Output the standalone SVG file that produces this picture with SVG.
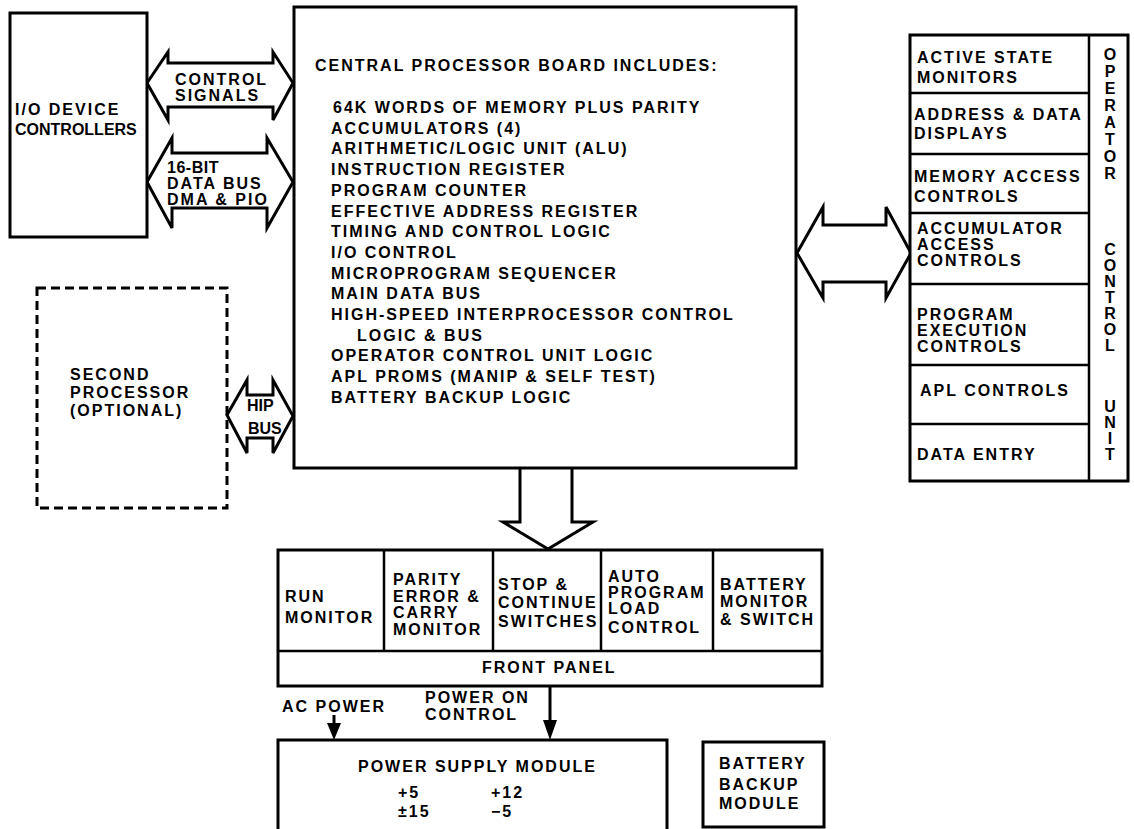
<svg xmlns="http://www.w3.org/2000/svg" width="1134" height="829" viewBox="0 0 1134 829">
<style>
.b{fill:#fff;stroke:#000;stroke-width:3;stroke-linejoin:miter}
.d{fill:none;stroke:#000;stroke-width:2.5}
.t{font-family:"Liberation Sans",Arial,sans-serif;font-weight:bold;font-size:16px;letter-spacing:2px;fill:#000}
.s{font-family:"Liberation Sans",Arial,sans-serif;font-weight:bold;font-size:16px;fill:#000}
</style>
<rect width="1134" height="829" fill="#fff"/>
<g id="connectors">
<polygon class="b" points="147,83 168,52 168,63 273,63 273,52 293,83 273,120 273,107 168,107 168,120"/>
<polygon class="b" points="147,182 172,138 172,153 267,153 267,138 293,182 267,228 267,208 172,208 172,228"/>
<polygon class="b" points="227,415 247,380 247,395 273,395 273,380 293,416 273,453 273,438 247,438 247,453"/>
<polygon class="b" points="797,253 823,207 823,225 886,225 886,207 911,253 886,298 886,282 823,282 823,298"/>
<path class="b" d="M520,469 V522 H503 L548,549 L593,522 H572 V469"/>
<line x1="334" y1="715" x2="334" y2="726" stroke="#000" stroke-width="3"/>
<polygon points="327,723 341,723 334,740" fill="#000"/>
<line x1="550" y1="686" x2="550" y2="722" stroke="#000" stroke-width="3"/>
<polygon points="543,720 557,720 550,740" fill="#000"/>
<text class="t" x="175" y="85">CONTROL</text>
<text class="t" x="175" y="101">SIGNALS</text>
<text class="s" x="167" y="173" letter-spacing="0.5">16-BIT</text>
<text class="t" x="167" y="189" letter-spacing="1.5">DATA BUS</text>
<text class="t" x="167" y="205" letter-spacing="1.5">DMA &amp; PIO</text>
<text class="s" x="247" y="411" font-size="15">HIP</text>
<text class="s" x="248" y="434" font-size="15">BUS</text>
<text class="t" x="282" y="712">AC POWER</text>
<text class="t" x="425" y="703">POWER ON</text>
<text class="t" x="425" y="720">CONTROL</text>
</g>
<g id="io-device-controllers">
<rect class="b" x="10" y="13" width="137" height="224"/>
<text class="t" x="15" y="115">I/O DEVICE</text>
<text class="s" x="15" y="135">CONTROLLERS</text>
</g>
<g id="second-processor">
<rect x="37" y="288" width="190" height="220" fill="none" stroke="#000" stroke-width="3" stroke-dasharray="9,5"/>
<text class="t" x="70" y="380" letter-spacing="1">SECOND</text>
<text class="t" x="70" y="398" letter-spacing="1">PROCESSOR</text>
<text class="t" x="70" y="416" letter-spacing="1">(OPTIONAL)</text>
</g>
<g id="central-processor-board">
<rect class="b" x="294" y="7" width="502" height="461"/>
<text class="t" x="315" y="71">CENTRAL PROCESSOR BOARD INCLUDES:</text>
<text class="t" x="333" y="113" letter-spacing="2.5">64K WORDS OF MEMORY PLUS PARITY</text>
<text class="t" x="331" y="133.7">ACCUMULATORS (4)</text>
<text class="t" x="331" y="154.4">ARITHMETIC/LOGIC UNIT (ALU)</text>
<text class="t" x="331" y="175.1">INSTRUCTION REGISTER</text>
<text class="t" x="331" y="195.8">PROGRAM COUNTER</text>
<text class="t" x="331" y="216.5">EFFECTIVE ADDRESS REGISTER</text>
<text class="t" x="331" y="237.2">TIMING AND CONTROL LOGIC</text>
<text class="t" x="331" y="257.9">I/O CONTROL</text>
<text class="t" x="331" y="278.6">MICROPROGRAM SEQUENCER</text>
<text class="t" x="331" y="299.3">MAIN DATA BUS</text>
<text class="t" x="331" y="320">HIGH-SPEED INTERPROCESSOR CONTROL</text>
<text class="t" x="357" y="340.7">LOGIC &amp; BUS</text>
<text class="t" x="331" y="361.4">OPERATOR CONTROL UNIT LOGIC</text>
<text class="t" x="331" y="382.1">APL PROMS (MANIP &amp; SELF TEST)</text>
<text class="t" x="331" y="402.8">BATTERY BACKUP LOGIC</text>
</g>
<g id="operator-control-unit">
<rect class="b" x="910" y="35" width="218" height="446"/>
<line class="d" x1="1089" y1="35" x2="1089" y2="481"/>
<line class="d" x1="910" y1="93" x2="1089" y2="93"/>
<line class="d" x1="910" y1="154" x2="1089" y2="154"/>
<line class="d" x1="910" y1="213" x2="1089" y2="213"/>
<line class="d" x1="910" y1="284" x2="1089" y2="284"/>
<line class="d" x1="910" y1="365" x2="1089" y2="365"/>
<line class="d" x1="910" y1="424" x2="1089" y2="424"/>
<text class="t" x="917" y="63">ACTIVE STATE</text>
<text class="t" x="917" y="83">MONITORS</text>
<text class="t" x="914" y="120">ADDRESS &amp; DATA</text>
<text class="t" x="914" y="139">DISPLAYS</text>
<text class="t" x="914" y="182">MEMORY ACCESS</text>
<text class="t" x="914" y="202">CONTROLS</text>
<text class="t" x="917" y="234">ACCUMULATOR</text>
<text class="t" x="917" y="250">ACCESS</text>
<text class="t" x="917" y="266">CONTROLS</text>
<text class="t" x="917" y="320">PROGRAM</text>
<text class="t" x="917" y="336">EXECUTION</text>
<text class="t" x="917" y="352">CONTROLS</text>
<text class="t" x="920" y="396">APL CONTROLS</text>
<text class="t" x="917" y="460">DATA ENTRY</text>
<g class="s" text-anchor="middle">
<text x="1110" y="60">O</text><text x="1110" y="77">P</text><text x="1110" y="94">E</text><text x="1110" y="111">R</text>
<text x="1110" y="128">A</text><text x="1110" y="145">T</text><text x="1110" y="162">O</text><text x="1110" y="179">R</text>
<text x="1110" y="255">C</text><text x="1110" y="271">O</text><text x="1110" y="287">N</text><text x="1110" y="303">T</text>
<text x="1110" y="319">R</text><text x="1110" y="335">O</text><text x="1110" y="351">L</text>
<text x="1110" y="412">U</text><text x="1110" y="428">N</text><text x="1110" y="444">I</text><text x="1110" y="460">T</text>
</g>
</g>
<g id="front-panel">
<rect class="b" x="278" y="550" width="544" height="136"/>
<line class="d" x1="278" y1="651" x2="822" y2="651"/>
<line class="d" x1="384" y1="550" x2="384" y2="651"/>
<line class="d" x1="493" y1="550" x2="493" y2="651"/>
<line class="d" x1="601" y1="550" x2="601" y2="651"/>
<line class="d" x1="713" y1="550" x2="713" y2="651"/>
<text class="t" x="285" y="602">RUN</text>
<text class="t" x="285" y="623">MONITOR</text>
<text class="t" x="393" y="585">PARITY</text>
<text class="t" x="393" y="602">ERROR &amp;</text>
<text class="t" x="393" y="618">CARRY</text>
<text class="t" x="393" y="635">MONITOR</text>
<text class="t" x="498" y="590">STOP &amp;</text>
<text class="t" x="498" y="608">CONTINUE</text>
<text class="t" x="498" y="627">SWITCHES</text>
<text class="t" x="608" y="582">AUTO</text>
<text class="t" x="608" y="598">PROGRAM</text>
<text class="t" x="608" y="614">LOAD</text>
<text class="t" x="608" y="633">CONTROL</text>
<text class="t" x="720" y="590">BATTERY</text>
<text class="t" x="720" y="607">MONITOR</text>
<text class="t" x="720" y="625">&amp; SWITCH</text>
<text class="t" x="482" y="673">FRONT PANEL</text>
</g>
<g id="power-supply-module">
<rect class="b" x="278" y="740" width="389" height="100"/>
<text class="t" x="358" y="772">POWER SUPPLY MODULE</text>
<text class="t" x="398" y="798">+5</text>
<text class="t" x="491" y="798">+12</text>
<text class="t" x="398" y="817">±15</text>
<text class="t" x="491" y="817">−5</text>
</g>
<g id="battery-backup-module">
<rect class="b" x="703" y="742" width="121" height="85"/>
<text class="t" x="719" y="769">BATTERY</text>
<text class="t" x="719" y="790">BACKUP</text>
<text class="t" x="719" y="809">MODULE</text>
</g>
</svg>
